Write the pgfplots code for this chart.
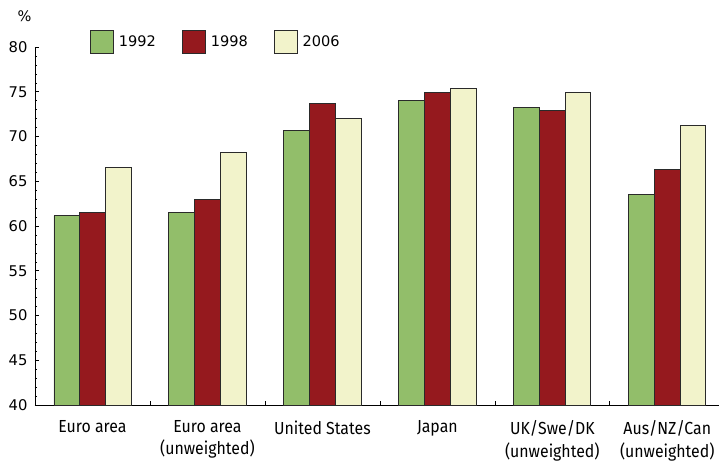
\documentclass[border=0pt]{standalone}
\usepackage{fontspec}
\setmainfont{DejaVu Sans}
\newfontfamily\condfont[FakeStretch=0.91]{Fira Sans}
\usepackage{pgfplots}
\pgfplotsset{compat=1.18}
\definecolor{cgreen}{HTML}{92BE6A}
\definecolor{cred}{HTML}{95191E}
\definecolor{ccream}{HTML}{F2F3CB}
\definecolor{cedge}{HTML}{2A2A2A}
\begin{document}
\begin{tikzpicture}
\path[use as bounding box] (-35bp,-57bp) rectangle (684bp,405bp);
\begin{axis}[
  at={(0,0)}, anchor=south west,
  scale only axis, width=684bp, height=358bp,
  clip=false,
  xmin=-0.5, xmax=5.45, ymin=40, ymax=80,
  axis lines=left, axis line style={-, black, line width=0.8pt},
  ybar=0pt, bar width=25.7bp,
  ytick={40,45,...,80}, minor y tick num=4,
  tick align=inside,
  major tick length=4bp, minor tick length=2.5bp,
  tick style={black, line width=0.6pt},
  yticklabel style={font=\fontsize{14.8}{16}\selectfont, xshift=-4bp},
  /pgf/number format/assume math mode=true,
  xtick={0.5,1.5,2.5,3.5,4.5}, xticklabels={},
  extra x ticks={0,1,2,3,4,5},
  extra x tick labels={Euro area, Euro area\\(unweighted), United States, Japan, UK/Swe/DK\\(unweighted), Aus/NZ/Can\\(unweighted)},
  extra x tick style={major tick length=0pt, tick style={draw=none},
    xticklabel style={font=\condfont\fontsize{17.5}{22.5}\selectfont, align=center, yshift=-12bp}},
  legend columns=3,
  legend style={at={(0,1)}, anchor=west, xshift=55bp, yshift=5bp, draw=none, fill=none,
    inner sep=0pt, column sep=3bp, font=\fontsize{14.6}{16}\selectfont,
    /tikz/every even column/.append style={column sep=24bp}},
  legend image code/.code={\draw[#1] (0bp,-11.5bp) rectangle (23bp,11.5bp);},
  every axis plot/.append style={draw=cedge, line width=0.8pt},
]
\addplot[fill=cgreen] coordinates {(0,61.15) (1,61.5) (2,70.7) (3,74.05) (4,73.2) (5,63.5)};
\addplot[fill=cred] coordinates {(0,61.5) (1,63.0) (2,73.7) (3,74.9) (4,72.9) (5,66.3)};
\addplot[fill=ccream] coordinates {(0,66.5) (1,68.2) (2,72.0) (3,75.4) (4,74.9) (5,71.2)};
\legend{1992,1998,2006}
\node[font=\fontsize{14.6}{16}\selectfont] at (rel axis cs:0,1) [xshift=-10.5bp, yshift=30.5bp] {\%};
\end{axis}
\end{tikzpicture}
\end{document}
